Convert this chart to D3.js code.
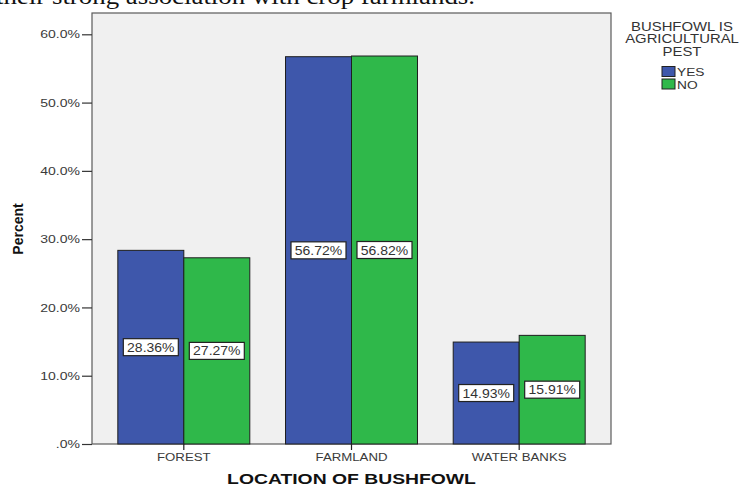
<!DOCTYPE html>
<meta charset="utf-8">
<head>
  <style>
    body { margin: 0; background: #fff; }
    svg { display: block; }
    text { font-family: "Liberation Sans", Arial, sans-serif; }
  </style>
</head>
<body>
  <script src="https://d3js.org/d3.v7.min.js"></script>
  <script>
    const locations = ["FOREST", "FARMLAND", "WATER BANKS"];
    const answers = ["YES", "NO"];
    const yesPct = [28.36, 56.72, 14.93];
    const noPct = [27.27, 56.82, 15.91];
    const yTicks = [0, 10, 20, 30, 40, 50, 60];
    const legendTitle = ["BUSHFOWL IS", "AGRICULTURAL", "PEST"];
    const colors = ["#3e57ab", "#2fb84a"];

    const width = 750, height = 486;
    const plotL = 92, plotR = 611, plotT = 13, plotB = 444;

    const svg = d3.select("body").append("svg")
      .attr("width", width)
      .attr("height", height);

    // the source figure is a bit wider than tall, so text is drawn stretched sideways
    function stretched(parent, x, y, s, str) {
      return parent.append("text")
        .attr("transform", `translate(${x},${y}) scale(${s},1)`)
        .text(str);
    }

    // clipped line of body text above the figure
    stretched(svg, 475, 4, 1.12, "their strong association with crop farmlands.")
      .attr("text-anchor", "end")
      .style("font", "24px 'Liberation Serif', 'Times New Roman', serif")
      .style("fill", "#111");

    const x = d3.scaleBand()
      .domain(locations)
      .range([plotL, plotR])
      .paddingInner(0.213)
      .paddingOuter(0.154);

    const xSub = d3.scaleBand()
      .domain(answers)
      .range([0, x.bandwidth()]);

    const y = d3.scaleLinear()
      .domain([0, 60])
      .range([plotB, 34.3]);

    svg.append("rect")
      .attr("x", plotL).attr("y", plotT)
      .attr("width", plotR - plotL).attr("height", plotB - plotT)
      .attr("fill", "#f0f0f0")
      .attr("stroke", "#5a5a5a")
      .attr("stroke-width", 1.2);

    const rows = locations.map((loc, i) => ({loc, vals: [yesPct[i], noPct[i]]}));

    const groups = svg.selectAll("g.grp")
      .data(rows)
      .join("g")
      .attr("class", "grp")
      .attr("transform", d => `translate(${x(d.loc)},0)`);

    const bars = groups.selectAll("g.bar")
      .data(d => d.vals.map((v, j) => ({key: answers[j], v, j})))
      .join("g")
      .attr("class", "bar");

    bars.append("rect")
      .attr("x", d => xSub(d.key))
      .attr("y", d => y(d.v))
      .attr("width", xSub.bandwidth())
      .attr("height", d => plotB - y(d.v))
      .attr("fill", d => colors[d.j])
      .attr("stroke", "#1e1e1e")
      .attr("stroke-width", 1);

    const boxW = 55, boxH = 17;
    bars.append("rect")
      .attr("x", d => xSub(d.key) + xSub.bandwidth() / 2 - boxW / 2)
      .attr("y", d => (y(d.v) + plotB) / 2 - boxH / 2)
      .attr("width", boxW).attr("height", boxH)
      .attr("fill", "#fff")
      .attr("stroke", "#222")
      .attr("stroke-width", 1.2);

    bars.each(function(d) {
      stretched(d3.select(this), xSub(d.key) + xSub.bandwidth() / 2, (y(d.v) + plotB) / 2, 1.12,
          d.v.toFixed(2) + "%")
        .attr("dy", "0.36em")
        .attr("text-anchor", "middle")
        .style("font-size", "12.5px")
        .style("fill", "#333");
    });

    // y axis
    const yAxis = svg.append("g")
      .attr("transform", `translate(${plotL},0)`)
      .call(d3.axisLeft(y).tickValues(yTicks).tickSize(10).tickPadding(2)
        .tickFormat(d => d === 0 ? ".0%" : d.toFixed(1) + "%"));
    yAxis.select(".domain").remove();
    yAxis.selectAll(".tick line").attr("stroke", "#333").attr("stroke-width", 1.2);
    yAxis.selectAll(".tick text")
      .attr("x", 0)
      .attr("transform", "translate(-12,0) scale(1.22,1)")
      .style("font-size", "11.5px")
      .style("fill", "#3a3a3a");

    // x axis
    const xAxis = svg.append("g")
      .attr("transform", `translate(0,${plotB})`)
      .call(d3.axisBottom(x).tickSize(6).tickPadding(3));
    xAxis.select(".domain").remove();
    xAxis.selectAll(".tick line").attr("stroke", "#222").attr("stroke-width", 1.2);
    xAxis.selectAll(".tick text")
      .attr("transform", "scale(1.15,1)")
      .style("font-size", "11.5px")
      .style("fill", "#3a3a3a");

    svg.append("text")
      .attr("transform", `translate(23,229) rotate(-90)`)
      .attr("text-anchor", "middle")
      .style("font-size", "14px")
      .style("font-weight", "bold")
      .style("fill", "#111")
      .text("Percent");

    stretched(svg, (plotL + plotR) / 2, 483.5, 1.29, "LOCATION OF BUSHFOWL")
      .attr("text-anchor", "middle")
      .style("font-size", "15px")
      .style("font-weight", "bold")
      .style("fill", "#111");

    // legend
    const legend = svg.append("g");
    legendTitle.forEach((t, i) => {
      stretched(legend, 682, 30.5 + i * 12.7, 1.18, t)
        .attr("text-anchor", "middle")
        .style("font-size", "12.6px")
        .style("fill", "#333");
    });

    const items = legend.selectAll("g.item")
      .data(answers)
      .join("g")
      .attr("class", "item")
      .attr("transform", (d, i) => `translate(662,${66.5 + i * 12.5})`);
    items.append("rect")
      .attr("width", 13).attr("height", 10)
      .attr("fill", (d, i) => colors[i])
      .attr("stroke", "#222");
    items.each(function(d) {
      stretched(d3.select(this), 15, 9.5, 1.25, d)
        .style("font-size", "11px")
        .style("fill", "#333");
    });
  </script>
</body>
